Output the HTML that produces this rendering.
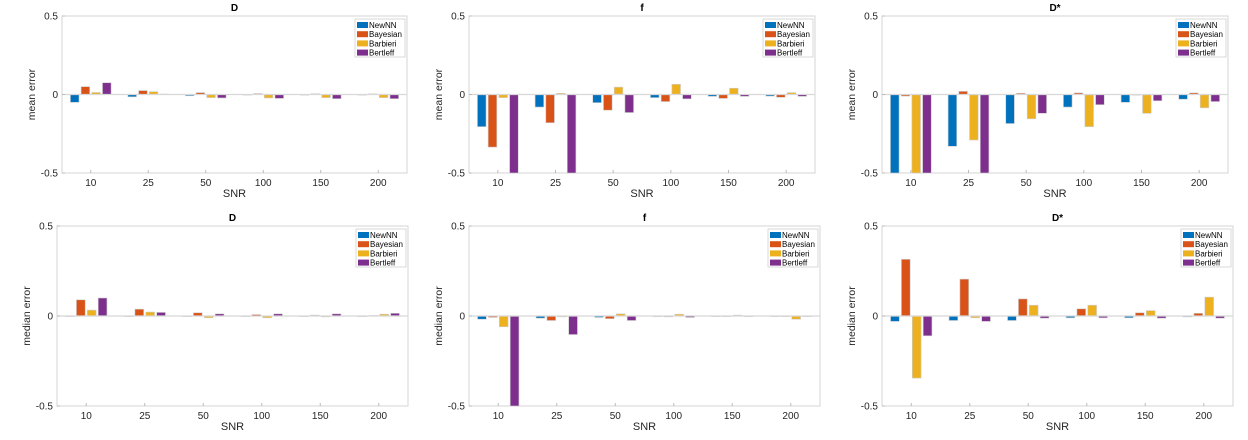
<!DOCTYPE html>
<html><head><meta charset="utf-8"><style>
html,body{margin:0;padding:0;background:#fff;}
svg{display:block;font-family:"Liberation Sans",Arial,sans-serif;}
</style></head><body>
<svg id="fig" width="1248" height="440" viewBox="0 0 1248 440" xmlns="http://www.w3.org/2000/svg"></svg>
<script>
const categories = ["10","25","50","100","150","200"];
const seriesNames = ["NewNN","Bayesian","Barbieri","Bertleff"];
const yTicks = [-0.5, 0, 0.5];
const yTickLabels = ["-0.5","0","0.5"];
// row 1: mean error
const meanD_NewNN    = [-0.05,-0.015,-0.008,-0.003,-0.002,0];
const meanD_Bayesian = [0.05,0.025,0.012,0.006,0.005,0.004];
const meanD_Barbieri = [0.013,0.018,-0.02,-0.022,-0.02,-0.02];
const meanD_Bertleff = [0.075,0.003,-0.022,-0.025,-0.027,-0.027];
const meanF_NewNN    = [-0.205,-0.08,-0.052,-0.02,-0.012,-0.01];
const meanF_Bayesian = [-0.335,-0.18,-0.1,-0.045,-0.025,-0.018];
const meanF_Barbieri = [-0.02,0.008,0.047,0.065,0.04,0.012];
const meanF_Bertleff = [-0.5,-0.5,-0.115,-0.028,-0.012,-0.012];
const meanDs_NewNN    = [-0.5,-0.33,-0.185,-0.08,-0.05,-0.03];
const meanDs_Bayesian = [-0.01,0.02,0.008,0.01,-0.003,0.01];
const meanDs_Barbieri = [-0.5,-0.29,-0.155,-0.205,-0.12,-0.085];
const meanDs_Bertleff = [-0.5,-0.5,-0.12,-0.065,-0.04,-0.045];
// row 2: median error
const medD_NewNN    = [-0.003,0,0,0,0,0];
const medD_Bayesian = [0.09,0.038,0.018,0.008,0.005,0.003];
const medD_Barbieri = [0.033,0.022,-0.01,-0.01,-0.005,0.01];
const medD_Bertleff = [0.1,0.02,0.012,0.012,0.012,0.015];
const medF_NewNN    = [-0.018,-0.012,-0.008,-0.004,-0.003,-0.002];
const medF_Bayesian = [-0.008,-0.025,-0.015,-0.005,-0.003,-0.002];
const medF_Barbieri = [-0.06,-0.005,0.012,0.01,0.005,-0.018];
const medF_Bertleff = [-0.5,-0.103,-0.025,-0.008,-0.004,-0.003];
const medDs_NewNN    = [-0.03,-0.025,-0.025,-0.01,-0.01,-0.005];
const medDs_Bayesian = [0.315,0.205,0.095,0.04,0.018,0.015];
const medDs_Barbieri = [-0.345,-0.01,0.06,0.06,0.03,0.105];
const medDs_Bertleff = [-0.11,-0.03,-0.012,-0.01,-0.012,-0.012];

const colors = ["#0072BD","#D95319","#EDB120","#7E2F8E"];
const NS = "http://www.w3.org/2000/svg";
const svg = document.getElementById("fig");
function mk(tag, attrs, parent){const e=document.createElementNS(NS,tag);for(const k in attrs)e.setAttribute(k,attrs[k]);(parent||svg).appendChild(e);return e;}

const panels = [
 {title:"D", ylabel:"mean error", box:[62,16,407,173], series:[meanD_NewNN,meanD_Bayesian,meanD_Barbieri,meanD_Bertleff], key:"mean-d"},
 {title:"f", ylabel:"mean error", box:[469,16,815,173], series:[meanF_NewNN,meanF_Bayesian,meanF_Barbieri,meanF_Bertleff], key:"mean-f"},
 {title:"D*", ylabel:"mean error", box:[882,16,1228,173], series:[meanDs_NewNN,meanDs_Bayesian,meanDs_Barbieri,meanDs_Bertleff], key:"mean-dstar"},
 {title:"D", ylabel:"median error", box:[57,226,408,406], series:[medD_NewNN,medD_Bayesian,medD_Barbieri,medD_Bertleff], key:"median-d"},
 {title:"f", ylabel:"median error", box:[469,226,820,406], series:[medF_NewNN,medF_Bayesian,medF_Barbieri,medF_Bertleff], key:"median-f"},
 {title:"D*", ylabel:"median error", box:[882,226,1233,406], series:[medDs_NewNN,medDs_Bayesian,medDs_Barbieri,medDs_Bertleff], key:"median-dstar"},
];

panels.forEach(p=>{
  const [x0,y0,x1,y1]=p.box;
  const g=mk("g",{});
  
  
  const n=categories.length;
  const xScale=i=>x0+(i+0.5)*(x1-x0)/n;
  const yScale=v=>y1-(v+0.5)/1.0*(y1-y0);
  const cw=(x1-x0)/n;
  mk("rect",{x:x0,y:y0,width:x1-x0,height:y1-y0,fill:"#fff",stroke:"#d4d4d4","stroke-width":1},g);
  // zero line
  const z=yScale(0);
  // bars
  p.series.forEach((arr,s)=>{
    arr.forEach((v,i)=>{
      const cx=xScale(i)+(s-1.5)*cw*0.186;
      const bw=cw*0.15;
      const yv=yScale(Math.max(-0.5,Math.min(0.5,v)));
      const r=mk("rect",{x:cx-bw/2,y:Math.min(yv,z),width:bw,height:Math.max(0.6,Math.abs(yv-z)),fill:colors[s],stroke:"#cfcfcf","stroke-width":0.6},g);
      
      
    });
  });
  mk("line",{x1:x0,y1:z,x2:x1,y2:z,stroke:"#d8d8d8","stroke-width":1.2},g);
  // y ticks
  yTicks.forEach((t,k)=>{
    const y=yScale(t);
    mk("line",{x1:x0,y1:y,x2:x0+3,y2:y,stroke:"#bbb"},g);
    const tx=mk("text",{x:x0-4,y:y+3.5,"text-anchor":"end","font-size":10,fill:"#262626"},g);
    tx.textContent=yTickLabels[k];
    
    
  });
  categories.forEach((c,i)=>{
    const x=xScale(i);
    mk("line",{x1:x,y1:y1,x2:x,y2:y1-3,stroke:"#bbb"},g);
    const tx=mk("text",{x:x,y:y1+13,"text-anchor":"middle","font-size":10,fill:"#262626"},g);
    tx.textContent=c;
    
    
  });
  const xl=mk("text",{x:(x0+x1)/2,y:y1+24,"text-anchor":"middle","font-size":11,fill:"#262626"},g);
  xl.textContent="SNR";
  
  
  const yc=(y0+y1)/2, yx=x0-27;
  const yl=mk("text",{x:yx,y:yc,"text-anchor":"middle","font-size":10.5,fill:"#262626",transform:`rotate(-90 ${yx} ${yc})`},g);
  yl.textContent=p.ylabel;
  
  
  const tt=mk("text",{x:(x0+x1)/2,y:y0-5,"text-anchor":"middle","font-size":10,"font-weight":"bold",fill:"#000"},g);
  tt.textContent=p.title;
  
  
  // legend
  const lw=50, lh=38, lx=x1-lw-2, ly=y0+3;
  const lg=mk("g",{},g);
  
  
  mk("rect",{x:lx,y:ly,width:lw,height:lh,fill:"#fff",stroke:"#d0d0d0","stroke-width":0.8},lg);
  seriesNames.forEach((nm,s)=>{
    const ey=ly+6+s*9.2;
    const e=mk("g",{},lg);
    
    
    mk("rect",{x:lx+2,y:ey-3,width:11,height:6,fill:colors[s]},e);
    const t=mk("text",{x:lx+14,y:ey+3,"font-size":8,fill:"#000"},e);
    t.textContent=nm;
  });
});
</script>
</body></html>
